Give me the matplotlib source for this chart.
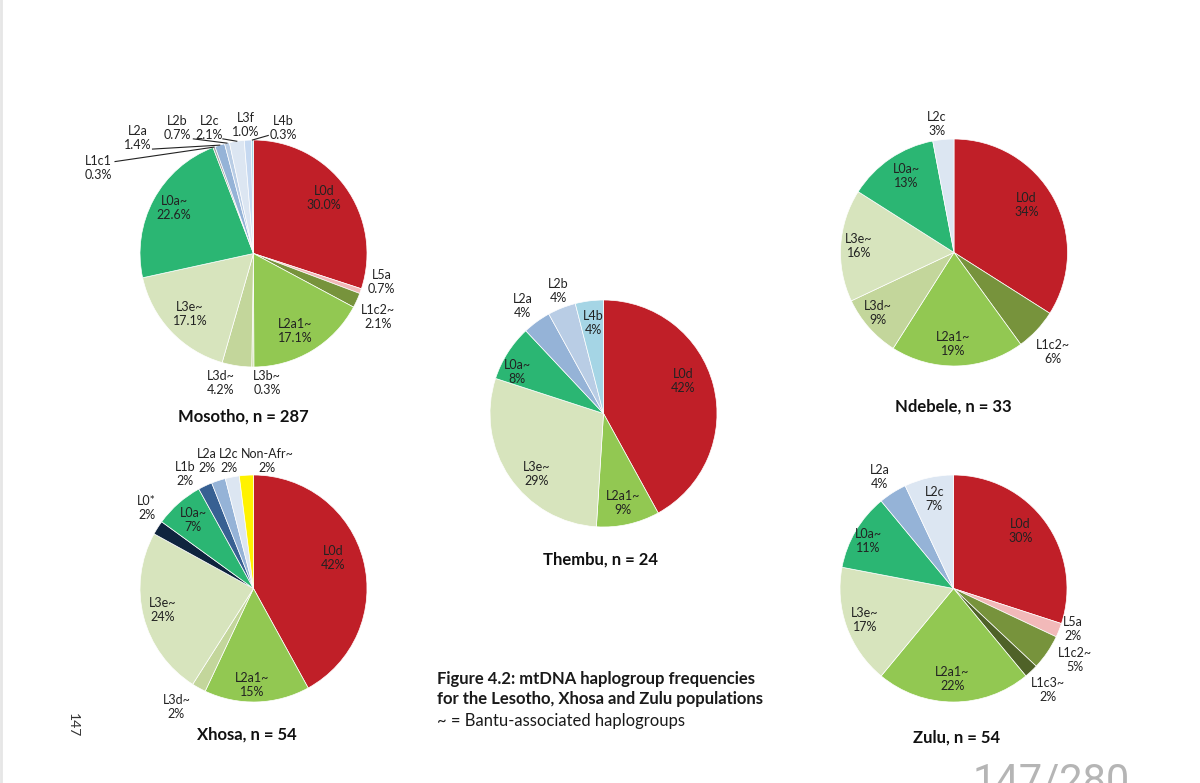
import numpy as np
import matplotlib
matplotlib.use("Agg")
import matplotlib.pyplot as plt
from matplotlib.lines import Line2D

plt.rcParams["font.family"] = ["Lato", "DejaVu Sans"]

W, H = 1200, 783
R_PX = 113.5  # pie radius in pixels

# haplogroup colours
colours = {
    "L0d": "#C01F28",
    "L5a": "#F2B9B9",
    "L1c2~": "#77933C",
    "L1c3~": "#4F6228",
    "L2a1~": "#92C852",
    "L3b~": "#CFDDAE",
    "L3d~": "#C3D69B",
    "L3e~": "#D7E4BD",
    "L0a~": "#2BB673",
    "L1c1": "#A6A6A6",
    "L2a": "#95B3D7",
    "L2b": "#B9CDE5",
    "L2c": "#DCE6F2",
    "L3f": "#C6D9F1",
    "L4b": "#A5D5E5",
    "L0*": "#0F243E",
    "L1b": "#376092",
    "Non-Afr~": "#FFF200",
}

# data, clockwise from 12 o'clock
mosotho_groups = ["L0d", "L5a", "L1c2~", "L2a1~", "L3b~", "L3d~", "L3e~", "L0a~",
                  "L1c1", "L2a", "L2b", "L2c", "L3f", "L4b"]
mosotho_freq = [30.0, 0.7, 2.1, 17.1, 0.3, 4.2, 17.1, 22.6, 0.3, 1.4, 0.7, 2.1, 1.0, 0.3]

xhosa_groups = ["L0d", "L2a1~", "L3d~", "L3e~", "L0*", "L0a~", "L1b", "L2a", "L2c", "Non-Afr~"]
xhosa_freq = [42, 15, 2, 24, 2, 7, 2, 2, 2, 2]

thembu_groups = ["L0d", "L2a1~", "L3e~", "L0a~", "L2a", "L2b", "L4b"]
thembu_freq = [42, 9, 29, 8, 4, 4, 4]

ndebele_groups = ["L0d", "L1c2~", "L2a1~", "L3d~", "L3e~", "L0a~", "L2c"]
ndebele_freq = [34, 6, 19, 9, 16, 13, 3]

zulu_groups = ["L0d", "L5a", "L1c2~", "L1c3~", "L2a1~", "L3e~", "L0a~", "L2a", "L2c"]
zulu_freq = [30, 2, 5, 2, 22, 17, 11, 4, 7]

# layout: centre in pixels, label positions in pie-radius units
pies = [
    dict(title="Mosotho, n = 287", groups=mosotho_groups, freq=mosotho_freq, dec=1,
         centre=(253.5, 253.5), title_pos=(-0.09, -1.44),
         labels={"L0d": (0.62, 0.49), "L5a": (1.13, -0.25), "L1c2~": (1.10, -0.56),
                 "L2a1~": (0.37, -0.68), "L3b~": (0.12, -1.14), "L3d~": (-0.29, -1.14),
                 "L3e~": (-0.56, -0.53), "L0a~": (-0.70, 0.40), "L1c1": (-1.37, 0.75),
                 "L2a": (-1.02, 1.02), "L2b": (-0.67, 1.11), "L2c": (-0.39, 1.11),
                 "L3f": (-0.07, 1.13), "L4b": (0.26, 1.11)},
         leaders={"L1c1": (-1.22, 0.81), "L2a": (-0.89, 0.92), "L2b": (-0.53, 1.01),
                  "L2c": (-0.27, 1.01), "L4b": (0.13, 1.04)}),
    dict(title="Xhosa, n = 54", groups=xhosa_groups, freq=xhosa_freq, dec=0,
         centre=(253.5, 588.5), title_pos=(-0.06, -1.29),
         labels={"L0d": (0.70, 0.27), "L2a1~": (-0.01, -0.85), "L3d~": (-0.68, -1.04),
                 "L3e~": (-0.80, -0.19), "L0*": (-0.94, 0.71), "L0a~": (-0.53, 0.60),
                 "L1b": (-0.60, 1.01), "L2a": (-0.41, 1.12), "L2c": (-0.22, 1.12),
                 "Non-Afr~": (0.12, 1.12)},
         leaders={}),
    dict(title="Thembu, n = 24", groups=thembu_groups, freq=thembu_freq, dec=0,
         centre=(603.5, 413.5), title_pos=(-0.03, -1.29),
         labels={"L0d": (0.70, 0.29), "L2a1~": (0.17, -0.79), "L3e~": (-0.59, -0.53),
                 "L0a~": (-0.76, 0.37), "L2a": (-0.71, 0.95), "L2b": (-0.40, 1.08),
                 "L4b": (-0.09, 0.80)},
         leaders={}),
    dict(title="Ndebele, n = 33", groups=ndebele_groups, freq=ndebele_freq, dec=0,
         centre=(954.0, 252.5), title_pos=(-0.01, -1.36),
         labels={"L0d": (0.64, 0.42), "L1c2~": (0.87, -0.88), "L2a1~": (-0.01, -0.81),
                 "L3d~": (-0.67, -0.53), "L3e~": (-0.84, 0.06), "L0a~": (-0.42, 0.67),
                 "L2c": (-0.15, 1.13)},
         leaders={}),
    dict(title="Zulu, n = 54", groups=zulu_groups, freq=zulu_freq, dec=0,
         centre=(953.5, 588.5), title_pos=(0.03, -1.31),
         labels={"L0d": (0.59, 0.51), "L5a": (1.05, -0.36), "L1c2~": (1.07, -0.63),
                 "L1c3~": (0.83, -0.89), "L2a1~": (-0.01, -0.80), "L3e~": (-0.78, -0.28),
                 "L0a~": (-0.75, 0.42), "L2a": (-0.65, 0.98), "L2c": (-0.17, 0.79)},
         leaders={}),
]

fig = plt.figure(figsize=(W / 100, H / 100), dpi=100)
fig.patch.set_facecolor("white")

S = 360  # axes size in pixels
for p in pies:
    cx, cy = p["centre"]
    ax = fig.add_axes([(cx - S / 2) / W, 1 - (cy + S / 2) / H, S / W, S / H])
    wedges, _ = ax.pie(p["freq"], colors=[colours[g] for g in p["groups"]],
                       startangle=90, counterclock=False, radius=1,
                       wedgeprops=dict(edgecolor="white", linewidth=0.5))
    lim = S / 2 / R_PX
    ax.set_xlim(-lim, lim)
    ax.set_ylim(-lim, lim)
    ax.set_aspect("equal")
    ax.axis("off")

    for w, g, v in zip(wedges, p["groups"], p["freq"]):
        lx, ly = p["labels"][g]
        txt = f"{g}\n{v:.{p['dec']}f}%"
        ax.text(lx, ly, txt, ha="center", va="center", fontsize=9,
                color="#222222", linespacing=1.2)
        if g in p["leaders"]:
            mid = np.deg2rad((w.theta1 + w.theta2) / 2)
            sx, sy = p["leaders"][g]
            ax.plot([sx, np.cos(mid)], [sy, np.sin(mid)], color="#222222", lw=0.8)

    tx, ty = p["title_pos"]
    ax.text(tx, ty, p["title"], ha="center", va="center", fontsize=12,
            fontweight="bold", color="#111111")

# caption
fig.text(437 / W, 1 - 679 / H, "Figure 4.2: mtDNA haplogroup frequencies",
         ha="left", va="center", fontsize=12, fontweight="bold", color="#1a1a1a")
fig.text(437 / W, 1 - 699 / H, "for the Lesotho, Xhosa and Zulu populations",
         ha="left", va="center", fontsize=12, fontweight="bold", color="#1a1a1a")
fig.text(437 / W, 1 - 721 / H, "~ = Bantu-associated haplogroups",
         ha="left", va="center", fontsize=12, color="#1a1a1a")

# page number and viewer overlay (cut off at the bottom as in the scan)
fig.text(73 / W, 1 - 725 / H, "147", rotation=-90, ha="center", va="center",
         fontsize=10, color="#333333")
fig.text(973 / W, 1 - 762 / H, "147/280", ha="left", va="top",
         fontsize=30, color="#b5b5b5", family=["Roboto", "DejaVu Sans"])
fig.add_artist(Line2D([0.001, 0.001], [0, 1], color="#e6e6e6", lw=2))

fig.savefig("out.png", dpi=100, facecolor="white")
